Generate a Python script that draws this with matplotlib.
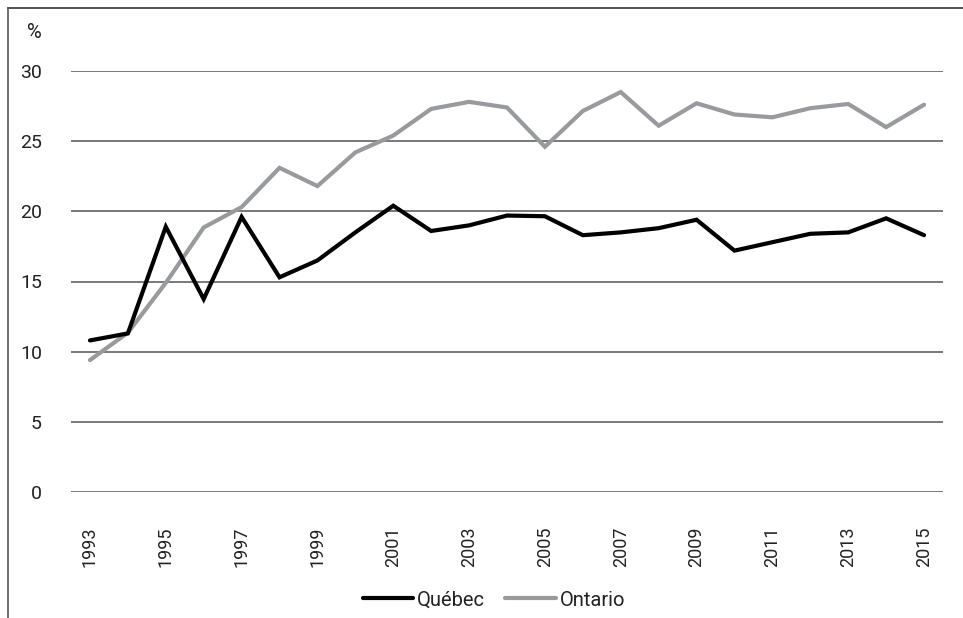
import matplotlib
matplotlib.use("Agg")
import matplotlib.pyplot as plt
from matplotlib.lines import Line2D

years = list(range(1993, 2016))
quebec = [10.8, 11.3, 18.9, 13.75, 19.6, 15.3, 16.5, 18.5, 20.4, 18.6, 19.0, 19.7,
          19.65, 18.3, 18.5, 18.8, 19.4, 17.2, 17.8, 18.4, 18.5, 19.5, 18.3]
ontario = [9.4, 11.35, 14.9, 18.85, 20.3, 23.1, 21.8, 24.2, 25.4, 27.3, 27.8, 27.4,
           24.6, 27.15, 28.5, 26.1, 27.7, 26.9, 26.7, 27.35, 27.65, 26.0, 27.6]
yticks = [0, 5, 10, 15, 20, 25, 30]
xtick_years = list(range(1993, 2016, 2))

plt.rcParams['font.family'] = ['Roboto', 'DejaVu Sans']

fig = plt.figure(figsize=(9.63, 6.18), dpi=100)
W, H = 963, 618
ax = fig.add_axes([71 / W, 1 - 492 / H, (943 - 71) / W, (492 - 71) / H])

for y in yticks:
    ax.axhline(y, color='#555555', lw=1.1, zorder=1)

ax.plot(years, quebec, color='#000000', lw=3.0, label='Québec', zorder=3,
        solid_joinstyle='miter', solid_capstyle='round')
ax.plot(years, ontario, color='#999a9e', lw=3.0, label='Ontario', zorder=2,
        solid_joinstyle='miter', solid_capstyle='round')

ax.set_xlim(1992.5, 2015.5)
ax.set_ylim(0, 30)
for s in ax.spines.values():
    s.set_visible(False)
ax.set_yticks(yticks)
ax.set_yticklabels([str(v) for v in yticks], fontsize=14, color='#222222')
ax.set_xticks(xtick_years)
ax.set_xticklabels([str(v) for v in xtick_years], rotation=90, fontsize=13,
                   color='#222222', va='top', ha='center')
ax.tick_params(axis='y', length=0, pad=21)
ax.tick_params(axis='x', length=0, pad=25)

fig.text(27 / W, 1 - 33 / H, '%', fontsize=14.5, color='#222222', ha='left', va='center')

leg = fig.legend(loc='center', bbox_to_anchor=(494 / W, 1 - 600 / H), ncol=2,
                 frameon=False, fontsize=14.5, handlelength=2.5, handletextpad=0.2,
                 columnspacing=1.0)
for t in leg.get_texts():
    t.set_color('#222222')

fig.add_artist(Line2D([8 / W, 1.0], [1 - 8 / H, 1 - 8 / H], color='#333333', lw=1.2,
                      transform=fig.transFigure))
fig.add_artist(Line2D([8 / W, 8 / W], [1 - 8 / H, 0], color='#555555', lw=1.2,
                      transform=fig.transFigure))

fig.savefig('out.png', dpi=100)
